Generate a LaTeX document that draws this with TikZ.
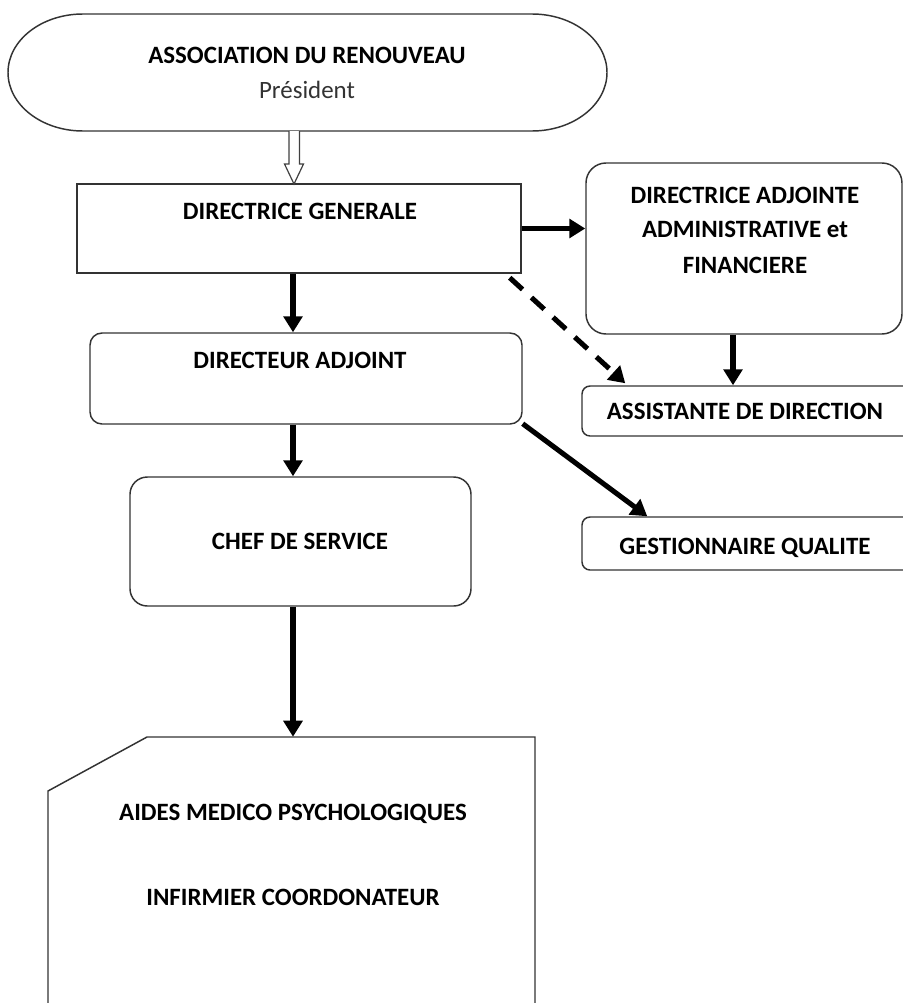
\documentclass[tikz,border=0pt]{standalone}
\usepackage{fontspec}
\setmainfont{Carlito}
\usetikzlibrary{arrows.meta,fit,calc}
\begin{document}
\begin{tikzpicture}[x=0.75pt,y=-0.75pt,
  boxline/.style={draw=black!80, line width=1.1pt},
  frame/.style={boxline, fill=white, inner sep=0pt},
  lbl/.style={font=\fontsize{18.7}{22}\selectfont\bfseries, text=black, inner sep=0pt, text height=12pt, text depth=0pt},
  sublbl/.style={font=\fontsize{18.7}{22}\selectfont, text=black!80, inner sep=0pt, text height=13pt, text depth=0pt},
  link/.style={line width=3.8pt, -{Triangle[length=12pt,width=14pt]}},
  dashlink/.style={link, dash pattern=on 13pt off 9pt}
]
\useasboundingbox (0,0) rectangle (903,1003);
\clip (0,0) rectangle (903,1003);

% terminator
\node[inner sep=0pt, fit={(8,14)(607,131)}] (assoc) {};
\draw[boxline] (83,14) -- (532,14)
  arc[start angle=90, end angle=-90, x radius=56.25pt, y radius=43.875pt]
  -- (83,131)
  arc[start angle=-90, end angle=-270, x radius=56.25pt, y radius=43.875pt]
  -- cycle;
\node[lbl] (t-assoc) at (307,55) {ASSOCIATION DU RENOUVEAU};
\node[sublbl] (t-pres) at (307,90) {Président};

% boxes
\node[frame, fit={(77,184)(521,273)}] (dg) {};
\node[lbl] (t-dg) at (300,211) {DIRECTRICE GENERALE};

\node[frame, rounded corners=15pt, fit={(586,163)(902,334)}] (daaf) {};
\node[lbl] (t-daaf1) at (745,195) {DIRECTRICE ADJOINTE};
\node[lbl] (t-daaf2) at (745,229) {ADMINISTRATIVE et};
\node[lbl] (t-daaf3) at (745,265) {FINANCIERE};

\node[frame, rounded corners=6pt, fit={(582,386)(912,436)}] (asst) {};
\node[lbl] (t-asst) at (745,411) {ASSISTANTE DE DIRECTION};

\node[frame, rounded corners=9pt, fit={(90,333)(522,424)}] (da) {};
\node[lbl] (t-da) at (300,360) {DIRECTEUR ADJOINT};

\node[frame, rounded corners=13pt, fit={(130,477)(471,606)}] (cs) {};
\node[lbl] (t-cs) at (300,541) {CHEF DE SERVICE};

\node[frame, rounded corners=6pt, fit={(582,517)(912,570)}] (gq) {};
\node[lbl] (t-gq) at (745,546) {GESTIONNAIRE QUALITE};

% card
\node[inner sep=0pt, fit={(48,737)(535,1012)}] (card) {};
\draw[boxline] (147,737) -- (535,737) -- (535,1012) -- (48,1012) -- (48,791) -- cycle;
\node[lbl] (t-card1) at (293,812) {AIDES MEDICO PSYCHOLOGIQUES};
\node[lbl] (t-card2) at (293,897) {INFIRMIER COORDONATEUR};

% spines
\coordinate (spine) at (293,0);
\coordinate (rspine) at (733,0);

% hollow arrow
\draw[draw=black!75, line width=0.9pt, fill=white]
  (289,131) -- (289,164) -- (284.5,164) -- (294,184) -- (303.5,164) -- (299.5,164) -- (299.5,131);

% connectors
\draw[link] (dg.east) -- (dg.east -| daaf.west);
\draw[link] (dg.south -| spine) -- (da.north -| spine);
\draw[dashlink] ($(dg.south east)+(-12,4)$) -- ($(asst.north west)+(44,-2)$);
\draw[link] (daaf.south -| rspine) -- (asst.north -| rspine);
\draw[link] (da.south -| spine) -- (cs.north -| spine);
\draw[link] ($(da.south east)+(0,-1)$) -- ($(gq.north west)+(66,0)$);
\draw[link] (cs.south -| spine) -- (card.north -| spine);
\end{tikzpicture}
\end{document}
